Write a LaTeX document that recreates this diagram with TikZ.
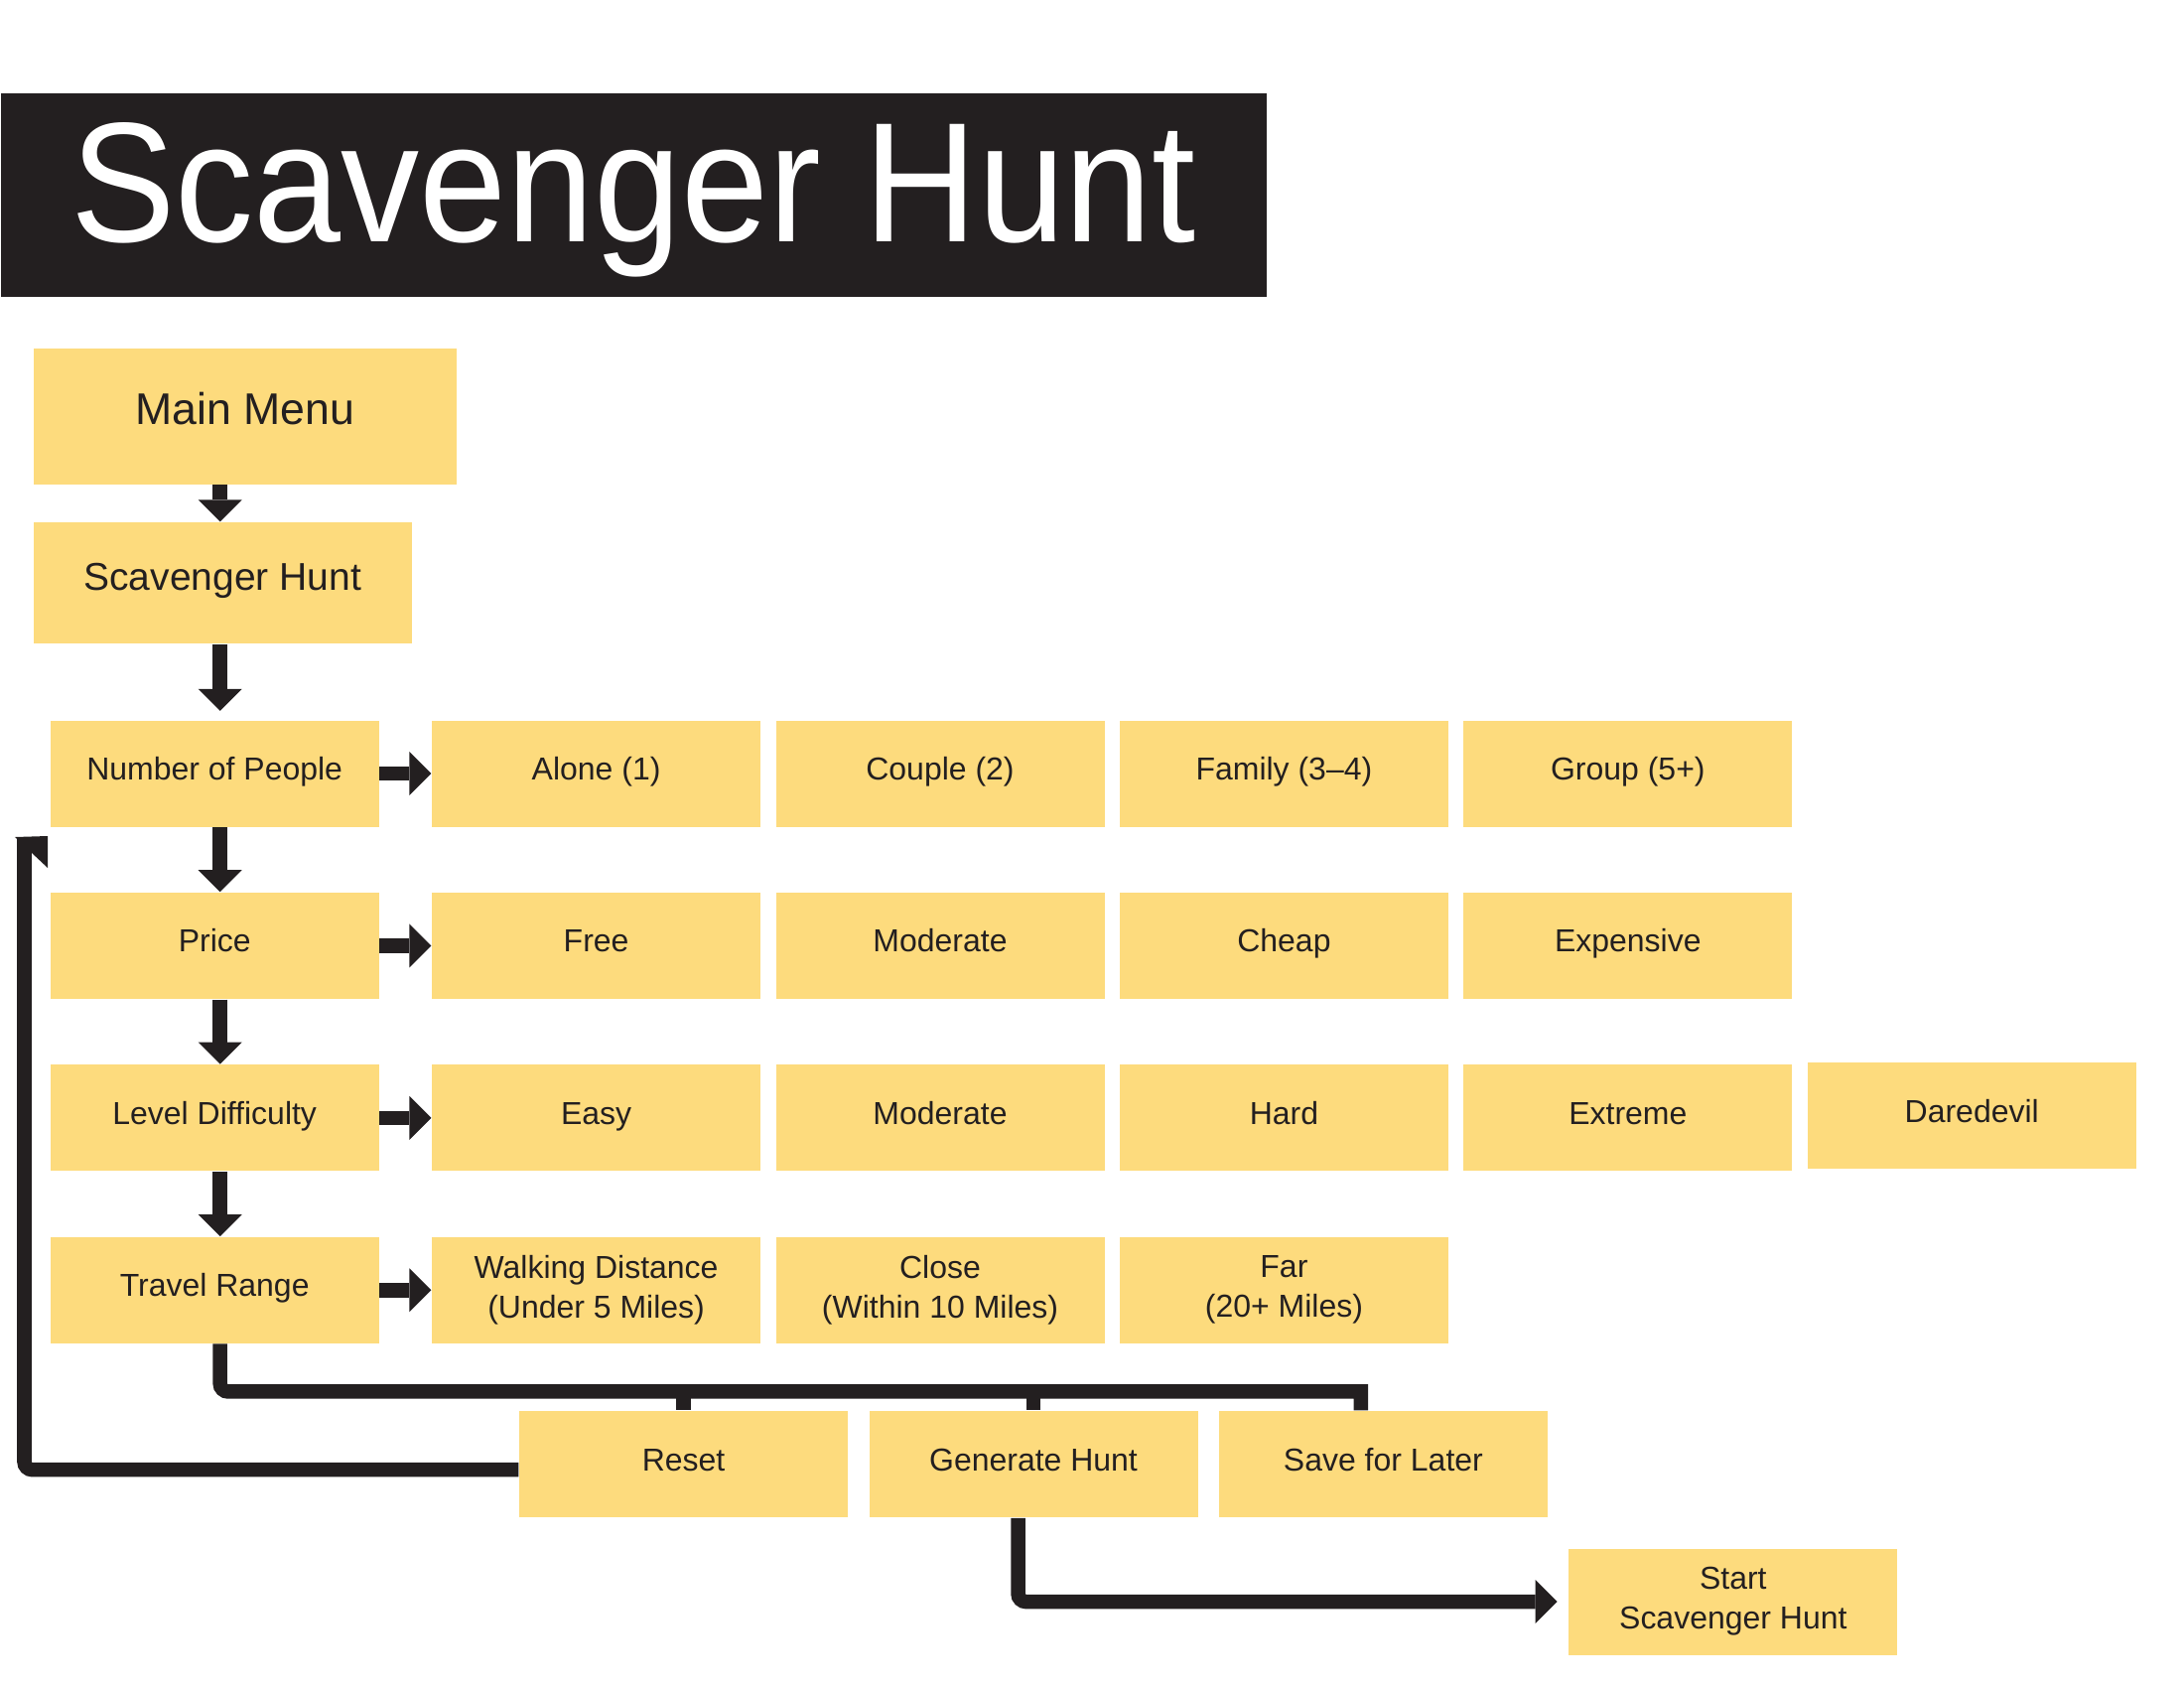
\documentclass[tikz,border=0pt]{standalone}
\usepackage{fontspec}
\setmainfont{Liberation Sans}
\usetikzlibrary{arrows.meta, positioning}
\definecolor{ink}{HTML}{231F20}
\definecolor{cardyellow}{HTML}{FDDB7D}

\begin{document}
\begin{tikzpicture}[
		cellbox/.style={rectangle, fill=cardyellow, text=ink, inner sep=0pt,
			minimum width=3.31cm, minimum height=1.07cm, align=center,
			font=\fontsize{9.1}{11.4}\selectfont, text height=0.23cm, text depth=0.10cm},
		twoline/.style={text height=, text depth=},
		flowarrow/.style={draw=ink, line width=0.145cm,
			-{Triangle[length=0.22cm, width=0.44cm, line width=0pt]}},
		wire/.style={draw=ink, line width=0.145cm}
		]
		\useasboundingbox (0,0) rectangle (22,-17);

		\node[fill=ink, text=white, inner sep=0pt, anchor=north west,
			minimum width=12.75cm, minimum height=2.05cm,
			font=\fontsize{48.9}{50}\selectfont, text height=1.23cm, text depth=0.28cm]
			(Title) at (0,-0.93) {\scalebox{0.92}[1]{Scavenger Hunt}};

		\node[cellbox, anchor=north west, minimum width=4.26cm, minimum height=1.37cm,
			font=\fontsize{12.7}{15}\selectfont, text height=0.32cm, text depth=0.15cm]
			(M0) at (0.33,-3.50) {Main Menu};
		\node[cellbox, below right=0.37cm and 0cm of M0.south west,
			minimum width=3.81cm, minimum height=1.22cm,
			font=\fontsize{11.1}{13}\selectfont, text height=0.28cm, text depth=0.14cm]
			(H0) {Scavenger Hunt};
		\draw[flowarrow] ([xshift=-0.025cm]H0.north |- M0.south) -- ([xshift=-0.025cm]H0.north);

		% number of people
		\node[cellbox, below right=0.76cm and 0.17cm of H0.south west](N0){Number of People};
		\draw[flowarrow] ([xshift=-0.025cm]H0.south) -- ([xshift=-0.025cm, yshift=0.09cm]H0.south |- N0.north);
		\node[cellbox, right=0.52cm of N0](N1){Alone (1)};
		\node[cellbox, right=0.14cm of N1](N2){Couple (2)};
		\node[cellbox, right=0.14cm of N2](N3){Family (3–4)};
		\node[cellbox, right=0.14cm of N3](N4){Group (5+)};
		\draw[flowarrow] (N0) -- (N1);

		% price
		\node[cellbox, below=0.65cm of N0](P0){Price};
		\draw[flowarrow] ([xshift=0.055cm]N0.south) -- ([xshift=0.055cm]P0.north);
		\node[cellbox, right=0.52cm of P0](P1){Free};
		\node[cellbox, right=0.14cm of P1](P2){Moderate};
		\node[cellbox, right=0.14cm of P2](P3){Cheap};
		\node[cellbox, right=0.14cm of P3](P4){Expensive};
		\draw[flowarrow] (P0) -- (P1);

		% level difficulty
		\node[cellbox, below=0.65cm of P0](L0){Level Difficulty};
		\draw[flowarrow] ([xshift=0.055cm]P0.south) -- ([xshift=0.055cm]L0.north);
		\node[cellbox, right=0.52cm of L0](L1){Easy};
		\node[cellbox, right=0.14cm of L1](L2){Moderate};
		\node[cellbox, right=0.14cm of L2](L3){Hard};
		\node[cellbox, right=0.14cm of L3](L4){Extreme};
		\node[cellbox, right=0.14cm of L4, yshift=0.02cm](L5){Daredevil};
		\draw[flowarrow] (L0) -- (L1);

		% travel range
		\node[cellbox, below=0.65cm of L0](T0){Travel Range};
		\draw[flowarrow] ([xshift=0.055cm]L0.south) -- ([xshift=0.055cm]T0.north);
		\node[cellbox, twoline, right=0.52cm of T0](T1){Walking Distance\\(Under 5 Miles)};
		\node[cellbox, twoline, right=0.14cm of T1](T2){Close\\(Within 10 Miles)};
		\node[cellbox, twoline, right=0.14cm of T2](T3){Far\\(20+ Miles)};
		\draw[flowarrow] (T0) -- (T1);

		% buttons
		\node[cellbox, below right=0.67cm and 1.40cm of T0.south east](B1){Reset};
		\node[cellbox, right=0.2cm of B1](B2){Generate Hunt};
		\node[cellbox, right=0.2cm of B2](B3){Save for Later};
		\coordinate (busR) at ([xshift=-0.225cm, yshift=0.19cm]B3.north);
		\draw[wire] ([xshift=0.055cm]T0.south) [rounded corners=0.08cm] |- (B1.north |- busR)
			[sharp corners] -- (busR) -- ([xshift=-0.225cm]B3.north);
		\draw[wire] (B1.north |- busR) -- (B1.north);
		\draw[wire] (B2.north |- busR) -- (B2.north);

		% back to the start
		\coordinate (loopend) at (0.245,-8.45);
		\draw[wire, rounded corners=0.08cm] ([yshift=-0.055cm]B1.west) -| (loopend);
		\fill[ink] (0.15,-8.43) -- (0.48,-8.42) -- (0.48,-8.74) -- cycle;

		\node[cellbox, twoline, below right=0.30cm and 0.20cm of B3.south east](S0){Start\\Scavenger Hunt};
		\draw[flowarrow, rounded corners=0.08cm] ([xshift=-0.155cm]B2.south) |- ([xshift=-0.11cm]S0.west);
	\end{tikzpicture}
\end{document}
